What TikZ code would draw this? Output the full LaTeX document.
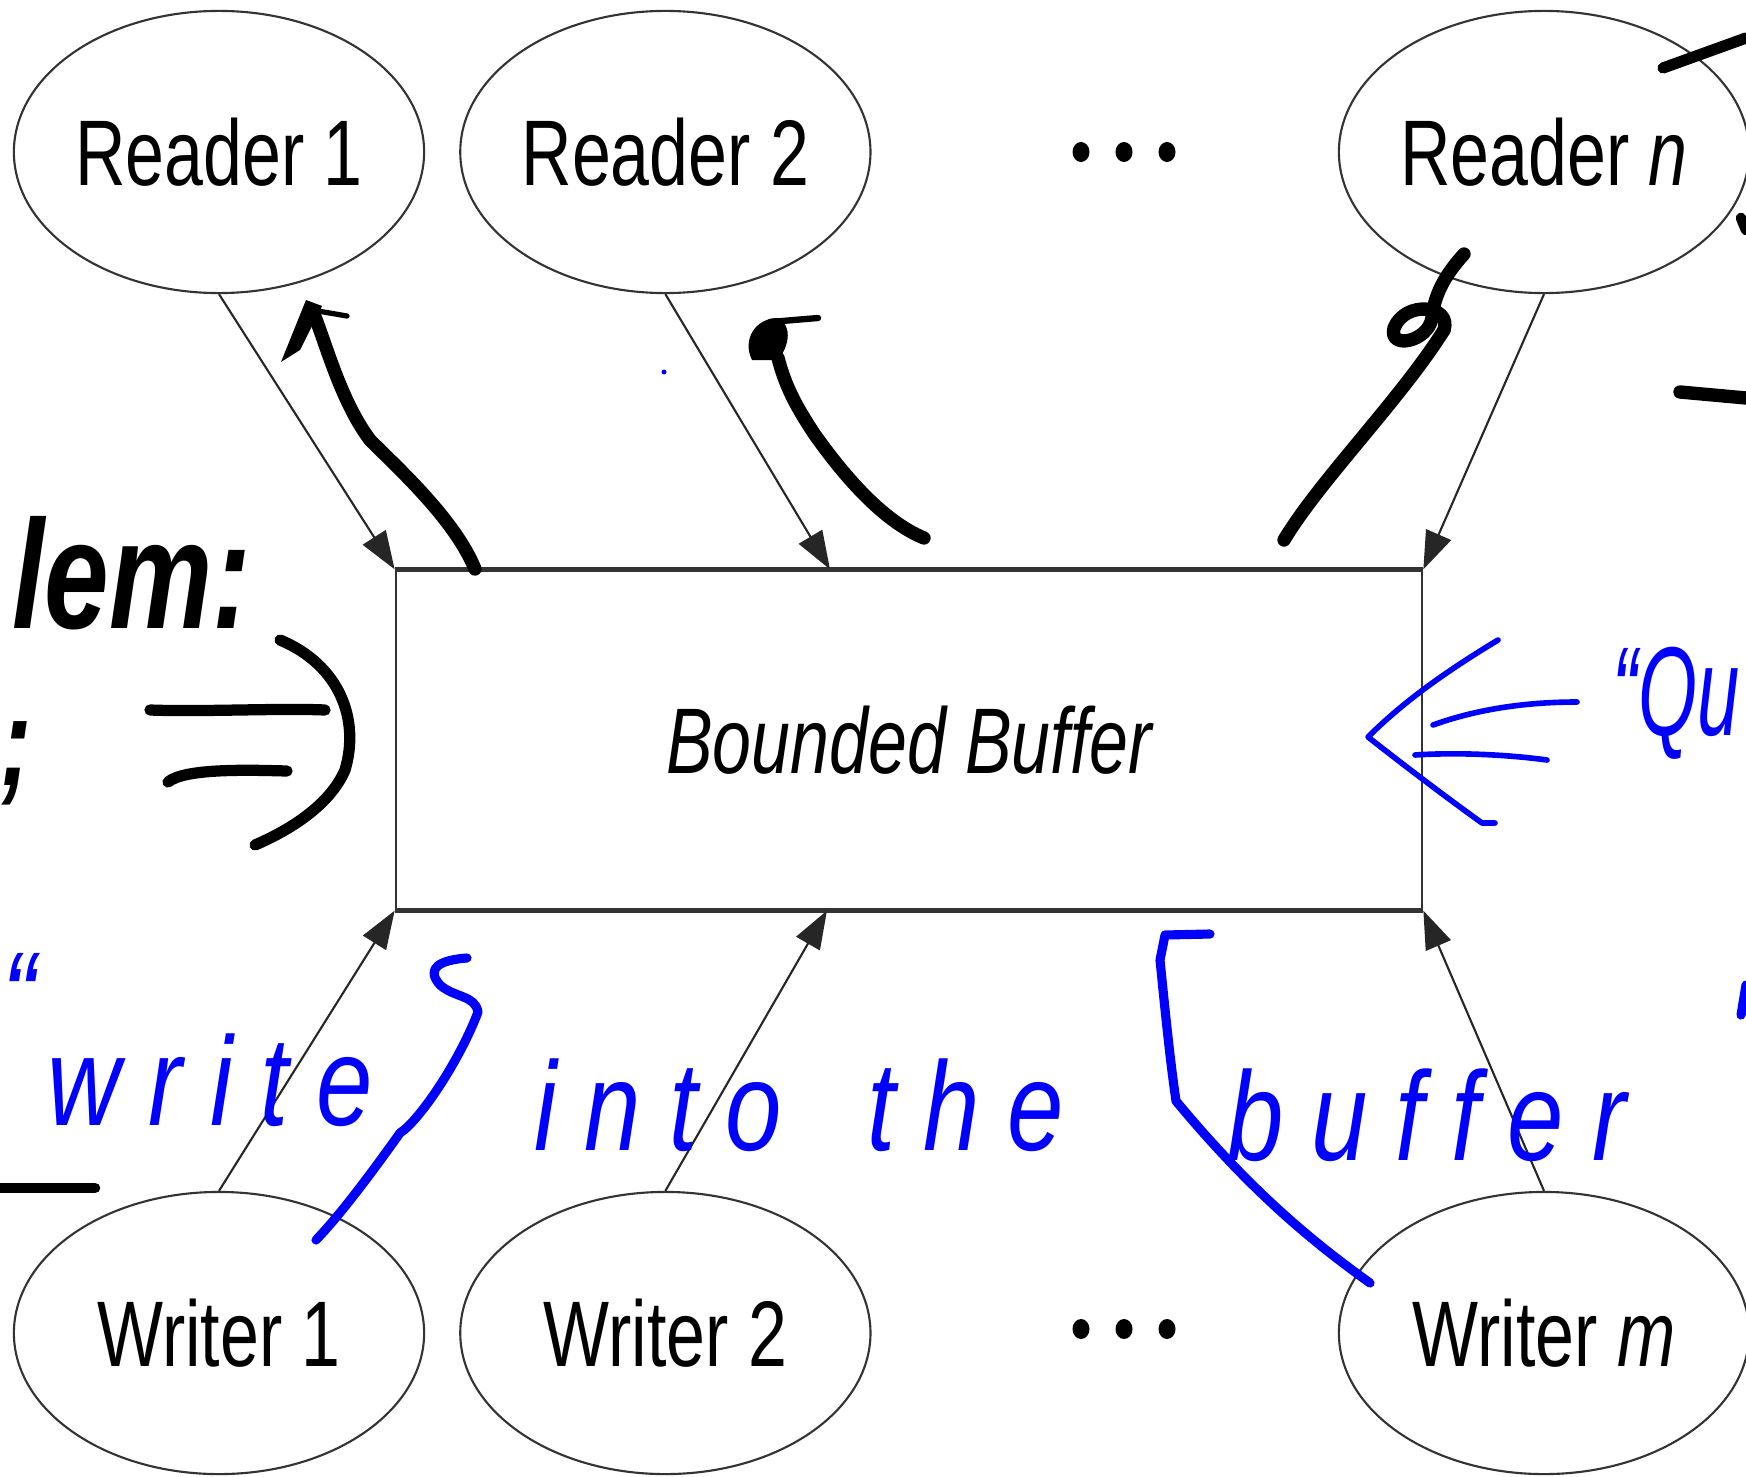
\documentclass[tikz,border=0pt]{standalone}
\usepackage{fontspec}
\setmainfont{Liberation Sans}[FakeStretch=0.75]
\newfontfamily\inkfont{Liberation Sans}[FakeStretch=0.8, LetterSpace=22]
\newfontfamily\thickink{Liberation Sans}[FakeStretch=0.75]
\newfontfamily\narrowink{Liberation Sans}[FakeStretch=0.6]
\usetikzlibrary{shapes}
\usetikzlibrary{positioning}
\usetikzlibrary{arrows.meta}

\tikzset{
  proc/.style={draw=black!80, ellipse, line width=0.6pt, minimum width=4.1cm,
    minimum height=2.82cm, inner sep=0pt, font=\fontsize{26.5}{30}\selectfont},
  buf/.style={draw=black!80, rectangle, line width=0.6pt, minimum width=10.26cm,
    minimum height=3.39cm, font=\fontsize{26.5}{30}\selectfont\itshape},
  link/.style={draw=black!85, line width=0.6pt, -{Triangle[length=0.38cm,width=0.27cm]}},
  ink/.style={line width=3.8pt, line cap=round, line join=round},
  pen/.style={blue, line width=2.6pt, line cap=round, line join=round},
  scrawl/.style={inner sep=0pt, font=\inkfont\itshape\fontsize{36}{40}\selectfont},
}

\begin{document}
\begin{tikzpicture}[x=0.01cm, y=-0.01cm]
\useasboundingbox (0,0) rectangle (1746,1476);

% readers and writers
\node[proc] (r1) at (219,152) {Reader 1};
\node[proc, right=0.34cm of r1] (r2) {Reader 2};
\node[proc] (rn) at (1544,152) {Reader \textit{n}};
\node[proc] (w1) at (219,1333) {Writer 1};
\node[proc, right=0.34cm of w1] (w2) {Writer 2};
\node[proc] (wm) at (1544,1333) {Writer \textit{m}};
\foreach \dx in {-43,0,43} {
  \fill (1124+\dx,152) ellipse (0.085cm and 0.1cm);
  \fill (1124+\dx,1329) ellipse (0.085cm and 0.1cm);
}

% the buffer
\node[buf] (bb) at (909,740) {Bounded Buffer};
\draw[black!80, line width=1.5pt] (bb.north west) -- (bb.north east);
\draw[black!80, line width=1.5pt] (bb.south west) -- (bb.south east);

\draw[link] (r1.south) -- (bb.north west);
\draw[link] (r2.south) -- ([xshift=-0.79cm]bb.north);
\draw[link] (rn.south) -- (bb.north east);
\draw[link] (w1.north) -- (bb.south west);
\draw[link] (w2.north) -- ([xshift=-0.82cm]bb.south);
\draw[link] (wm.north) -- (bb.south east);

% black pen
\draw[ink] (475,569) .. controls (455,520) and (400,470) .. (370,440)
  .. controls (340,400) and (325,340) .. (313,312);
\fill (281,362) -- (306,300) -- (322,306) -- (300,350) -- cycle;
\draw[ink, line width=1.5pt] (312,310) -- (347,316);
\draw[ink] (924,538) .. controls (880,520) and (840,470) .. (815,435)
  .. controls (795,405) and (785,385) .. (778,358);
\fill (752,360) .. controls (742,340) and (755,318) .. (778,318)
  .. controls (792,325) and (790,345) .. (778,360) -- cycle;
\draw[ink, line width=1.8pt] (770,322) -- (818,318);
\draw[ink] (1284,540) .. controls (1320,480) and (1400,400) .. (1444,330);
\draw[ink] (1444,330) .. controls (1452,305) and (1405,300) .. (1394,328)
  .. controls (1388,350) and (1428,342) .. (1432,318)
  .. controls (1434,295) and (1445,275) .. (1464,254);
\draw[ink, line width=3.2pt] (1663,68) -- (1746,38);
\draw[ink] (1680,392) -- (1746,398);
\draw[ink, line width=3pt] (1741,218) -- (1746,230);

\draw[ink, line width=3.2pt] (150,710) .. controls (200,712) and (280,708) .. (325,710);
\draw[ink, line width=3.2pt] (168,782) .. controls (185,768) and (250,770) .. (287,771);
\draw[ink, line width=3.2pt] (280,640) .. controls (340,665) and (360,720) .. (345,770)
  .. controls (330,805) and (290,830) .. (255,845);
\draw[ink, line width=3pt] (0,1188) -- (95,1188);
\node[inner sep=0pt, anchor=base east, font=\thickink\bfseries\itshape\fontsize{44}{48}\selectfont]
  (prob) at (252,628) {lem:};
\node[inner sep=0pt, anchor=base west, font=\thickink\bfseries\itshape\fontsize{36}{40}\selectfont]
  (semi) at (0,785) {;};

% blue pen
\fill[blue] (664,372) circle (0.025cm);
\node[scrawl, blue, anchor=base west] (opening) at (2,1040) {“};
\node[scrawl, blue, anchor=base west] (write) at (47,1125) {write};
\node[scrawl, blue, anchor=base west] (into) at (534,1150) {into};
\node[scrawl, blue, anchor=base west] (the) at (867,1150) {the};
\node[scrawl, blue, anchor=base west] (bufword) at (1227,1160) {buffer};
\node[inner sep=0pt, blue, anchor=base west, font=\narrowink\itshape\fontsize{36}{40}\selectfont]
  (queue) at (1612,735) {“Qu};
\draw[pen] (467,958) .. controls (440,960) and (425,968) .. (440,985)
  .. controls (455,998) and (475,995) .. (478,1012)
  .. controls (460,1060) and (420,1120) .. (400,1133)
  .. controls (370,1175) and (340,1215) .. (316,1240);
\draw[pen] (1210,934) -- (1165,935) -- (1160,960)
  .. controls (1165,1010) and (1170,1060) .. (1176,1101)
  .. controls (1250,1190) and (1310,1240) .. (1370,1283);
\draw[pen] (1746,985) -- (1741,1015);
\draw[pen, line width=1.6pt] (1498,640) .. controls (1440,675) and (1400,705) .. (1368,737)
  .. controls (1410,770) and (1450,800) .. (1482,823) -- (1495,823);
\draw[pen, line width=1.6pt] (1433,725) .. controls (1480,708) and (1530,702) .. (1577,702);
\draw[pen, line width=1.6pt] (1415,755) .. controls (1460,752) and (1510,755) .. (1547,760);
\end{tikzpicture}
\end{document}
